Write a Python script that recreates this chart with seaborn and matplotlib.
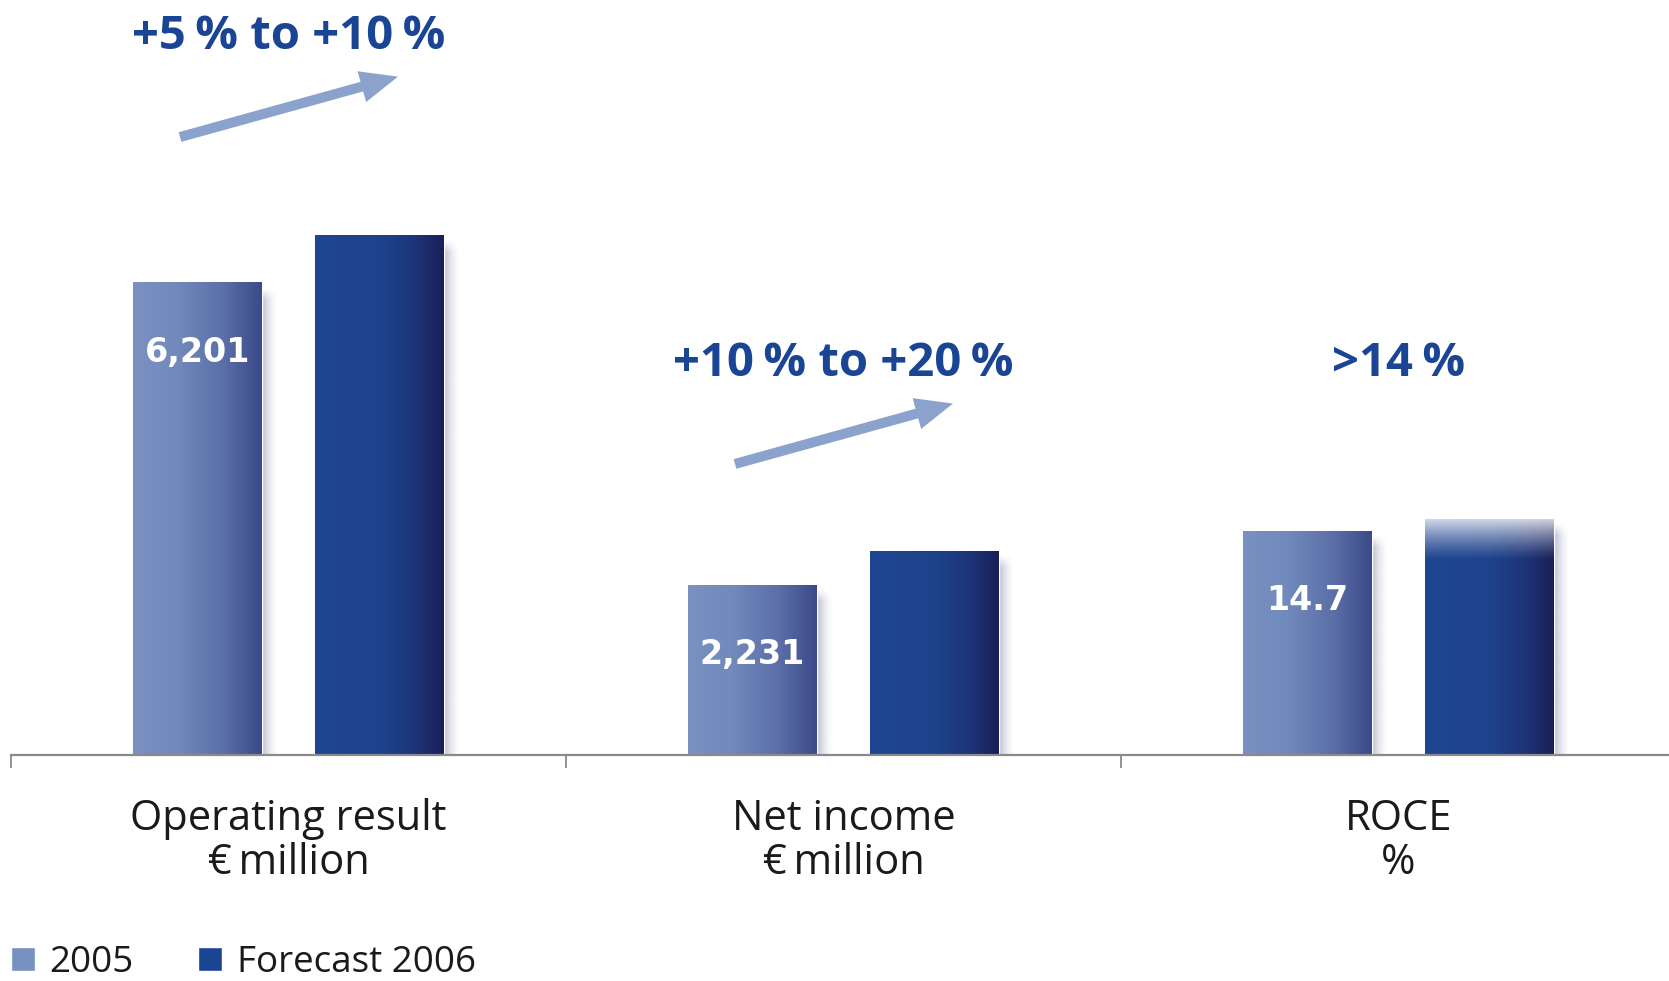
import numpy as np
import pandas as pd
import matplotlib
matplotlib.use("Agg")
import matplotlib.pyplot as plt
import seaborn as sns
from matplotlib.colors import LinearSegmentedColormap, to_rgb
from matplotlib.patches import Patch

# ---- data -------------------------------------------------------------
categories = ["Operating result\n€\u2009million", "Net income\n€\u2009million", "ROCE\n%"]
years = ["2005", "Forecast 2006"]
values_2005 = [6201, 2231, 14.7]
values_2006 = [6821, 2677, 15.5]
value_labels = ["6,201", "2,231", "14.7"]
targets = ["+5\u2009% to +10\u2009%", "+10\u2009% to +20\u2009%", ">14\u2009%"]
y_limits = [9900, 9900, 49.5]
show_arrow = [True, True, False]
target_y = [0.952, 0.519, 0.519]
faded_top = [False, False, True]

# ---- style ------------------------------------------------------------
sns.set_theme(style="white")
plt.rcParams["font.family"] = ["Open Sans", "DejaVu Sans"]

C05 = "#7890C0"
C06 = "#1A4594"
TEXT_BLUE = "#1A4595"
ARROW = "#8BA3CC"
AXIS_GREY = "#8A8A8A"

grad05 = LinearSegmentedColormap.from_list(
    "g05", [(0, "#7A91C2"), (0.35, "#7189BB"), (0.7, "#5B6FA8"), (1, "#3B4A89")])
grad06 = LinearSegmentedColormap.from_list(
    "g06", [(0, "#1F4691"), (0.5, "#1E438D"), (0.78, "#1D3477"), (1, "#191F58")])
gradients = [grad05, grad06]

W, H, DPI = 1669, 981, 100
fig = plt.figure(figsize=(W / DPI, H / DPI), dpi=DPI)

base_px = 755          # baseline, pixels from top
left_px = 11
group_px = 555

for i, cat in enumerate(categories):
    ax = fig.add_axes([(left_px + i * group_px) / W, (H - base_px) / H,
                       group_px / W, base_px / H])
    df = pd.DataFrame({"category": [cat, cat], "year": years,
                       "value": [values_2005[i], values_2006[i]]})
    sns.barplot(data=df, x="category", y="value", hue="year",
                palette=[C05, C06], width=0.656, gap=0.293,
                ax=ax, legend=False, zorder=3)
    ax.set_xlim(-0.5, 0.5)
    ax.set_ylim(0, y_limits[i])
    ylim = y_limits[i]
    ux = 1.0 / group_px          # data units per pixel (x)
    uy = ylim / base_px          # data units per pixel (y)

    bars = list(ax.patches)[:2]
    for j, bar in enumerate(bars):
        x0, w, h = bar.get_x(), bar.get_width(), bar.get_height()
        # horizontal colour gradient inside the bar
        g = np.linspace(0, 1, 256).reshape(1, -1)
        im = ax.imshow(g, cmap=gradients[j], extent=[x0, x0 + w, 0, h],
                       aspect="auto", zorder=4, interpolation="bilinear")
        im.set_clip_path(bar)
        # soft drop shadow on the right side
        sw = 16
        nx, ny = 64, 200
        xs = np.linspace(0, 1, nx)
        ys = np.linspace(0, 1, ny)
        ax_alpha = np.clip(1 - xs, 0, 1) ** 1.6
        top_fade = np.clip((h / uy) * (1 - ys) / 12.0, 0, 1)  # fade near the top
        alpha = 0.6 * np.outer(top_fade, ax_alpha)
        rgba = np.zeros((ny, nx, 4))
        rgba[..., :3] = to_rgb("#8E93B4")
        rgba[..., 3] = alpha
        shadow_top = h - 5 * uy
        ax.imshow(rgba[::-1], extent=[x0 + w, x0 + w + sw * ux, 0, shadow_top],
                  aspect="auto", zorder=2, interpolation="bilinear")
        if j == 1 and faded_top[i]:
            fade_px = 42
            n = 128
            a = np.zeros((n, 1, 4))
            a[..., :3] = 1.0
            a[:, 0, 3] = 0.8 * np.linspace(1, 0, n) ** 1.3
            imf = ax.imshow(a, extent=[x0, x0 + w, h - fade_px * uy, h],
                            aspect="auto", zorder=5, interpolation="bilinear")
            imf.set_clip_path(bar)

    # value label inside the 2005 bar
    b0 = bars[0]
    ax.annotate(value_labels[i], xy=(b0.get_x() + b0.get_width() / 2, values_2005[i]),
                xytext=(0, -50.5), textcoords="offset points",
                ha="center", va="center", color="white", fontsize=24,
                fontweight="bold", family=["DejaVu Sans"], zorder=6)

    # target text and trend arrow
    ax.text(0.0, target_y[i], targets[i], transform=ax.get_xaxis_transform(),
            ha="center", va="center", fontsize=34, fontweight="bold",
            color=TEXT_BLUE, family=["Open Sans", "DejaVu Sans"], zorder=6)
    if show_arrow[i]:
        base = target_y[i] + 0.009
        ax.annotate("", xy=(387 / group_px, base - 0.0625),
                    xytext=(169 / group_px, base - 0.1425),
                    xycoords="axes fraction", textcoords="axes fraction",
                    arrowprops=dict(arrowstyle="simple,head_length=2.7,head_width=2.3,tail_width=0.72",
                                    mutation_scale=10, color=ARROW, lw=0,
                                    shrinkA=0, shrinkB=0), zorder=3)

    # axes cosmetics
    for s in ["top", "left", "right"]:
        ax.spines[s].set_visible(False)
    ax.spines["bottom"].set_color(AXIS_GREY)
    ax.spines["bottom"].set_linewidth(1.6)
    ax.spines["bottom"].set_zorder(7)
    ax.set_yticks([])
    ax.set_ylabel("")
    ax.set_xlabel("")
    ax.set_xticks([0])
    ax.set_xticklabels([cat], fontsize=30, color="#1A1A1A", linespacing=1.06)
    ax.tick_params(axis="x", which="major", length=0, pad=31)
    ax.set_xticks([-0.5], minor=True)
    ax.tick_params(axis="x", which="minor", bottom=True, length=9, width=1.3,
                   color=AXIS_GREY, direction="out")
    ax.set_facecolor("none")
    ax.patch.set_visible(False)

# legend
handles = [Patch(facecolor=C05, label=years[0]), Patch(facecolor=C06, label=years[1])]
fig.legend(handles=handles, loc="lower left", bbox_to_anchor=(11 / W, 0.0),
           ncol=2, frameon=False, fontsize=26.5, handlelength=0.65, handleheight=0.65,
           handletextpad=0.4, columnspacing=1.75, borderaxespad=0.0, borderpad=0.0,
           labelcolor="#1A1A1A")

fig.savefig("out.png", dpi=DPI)
